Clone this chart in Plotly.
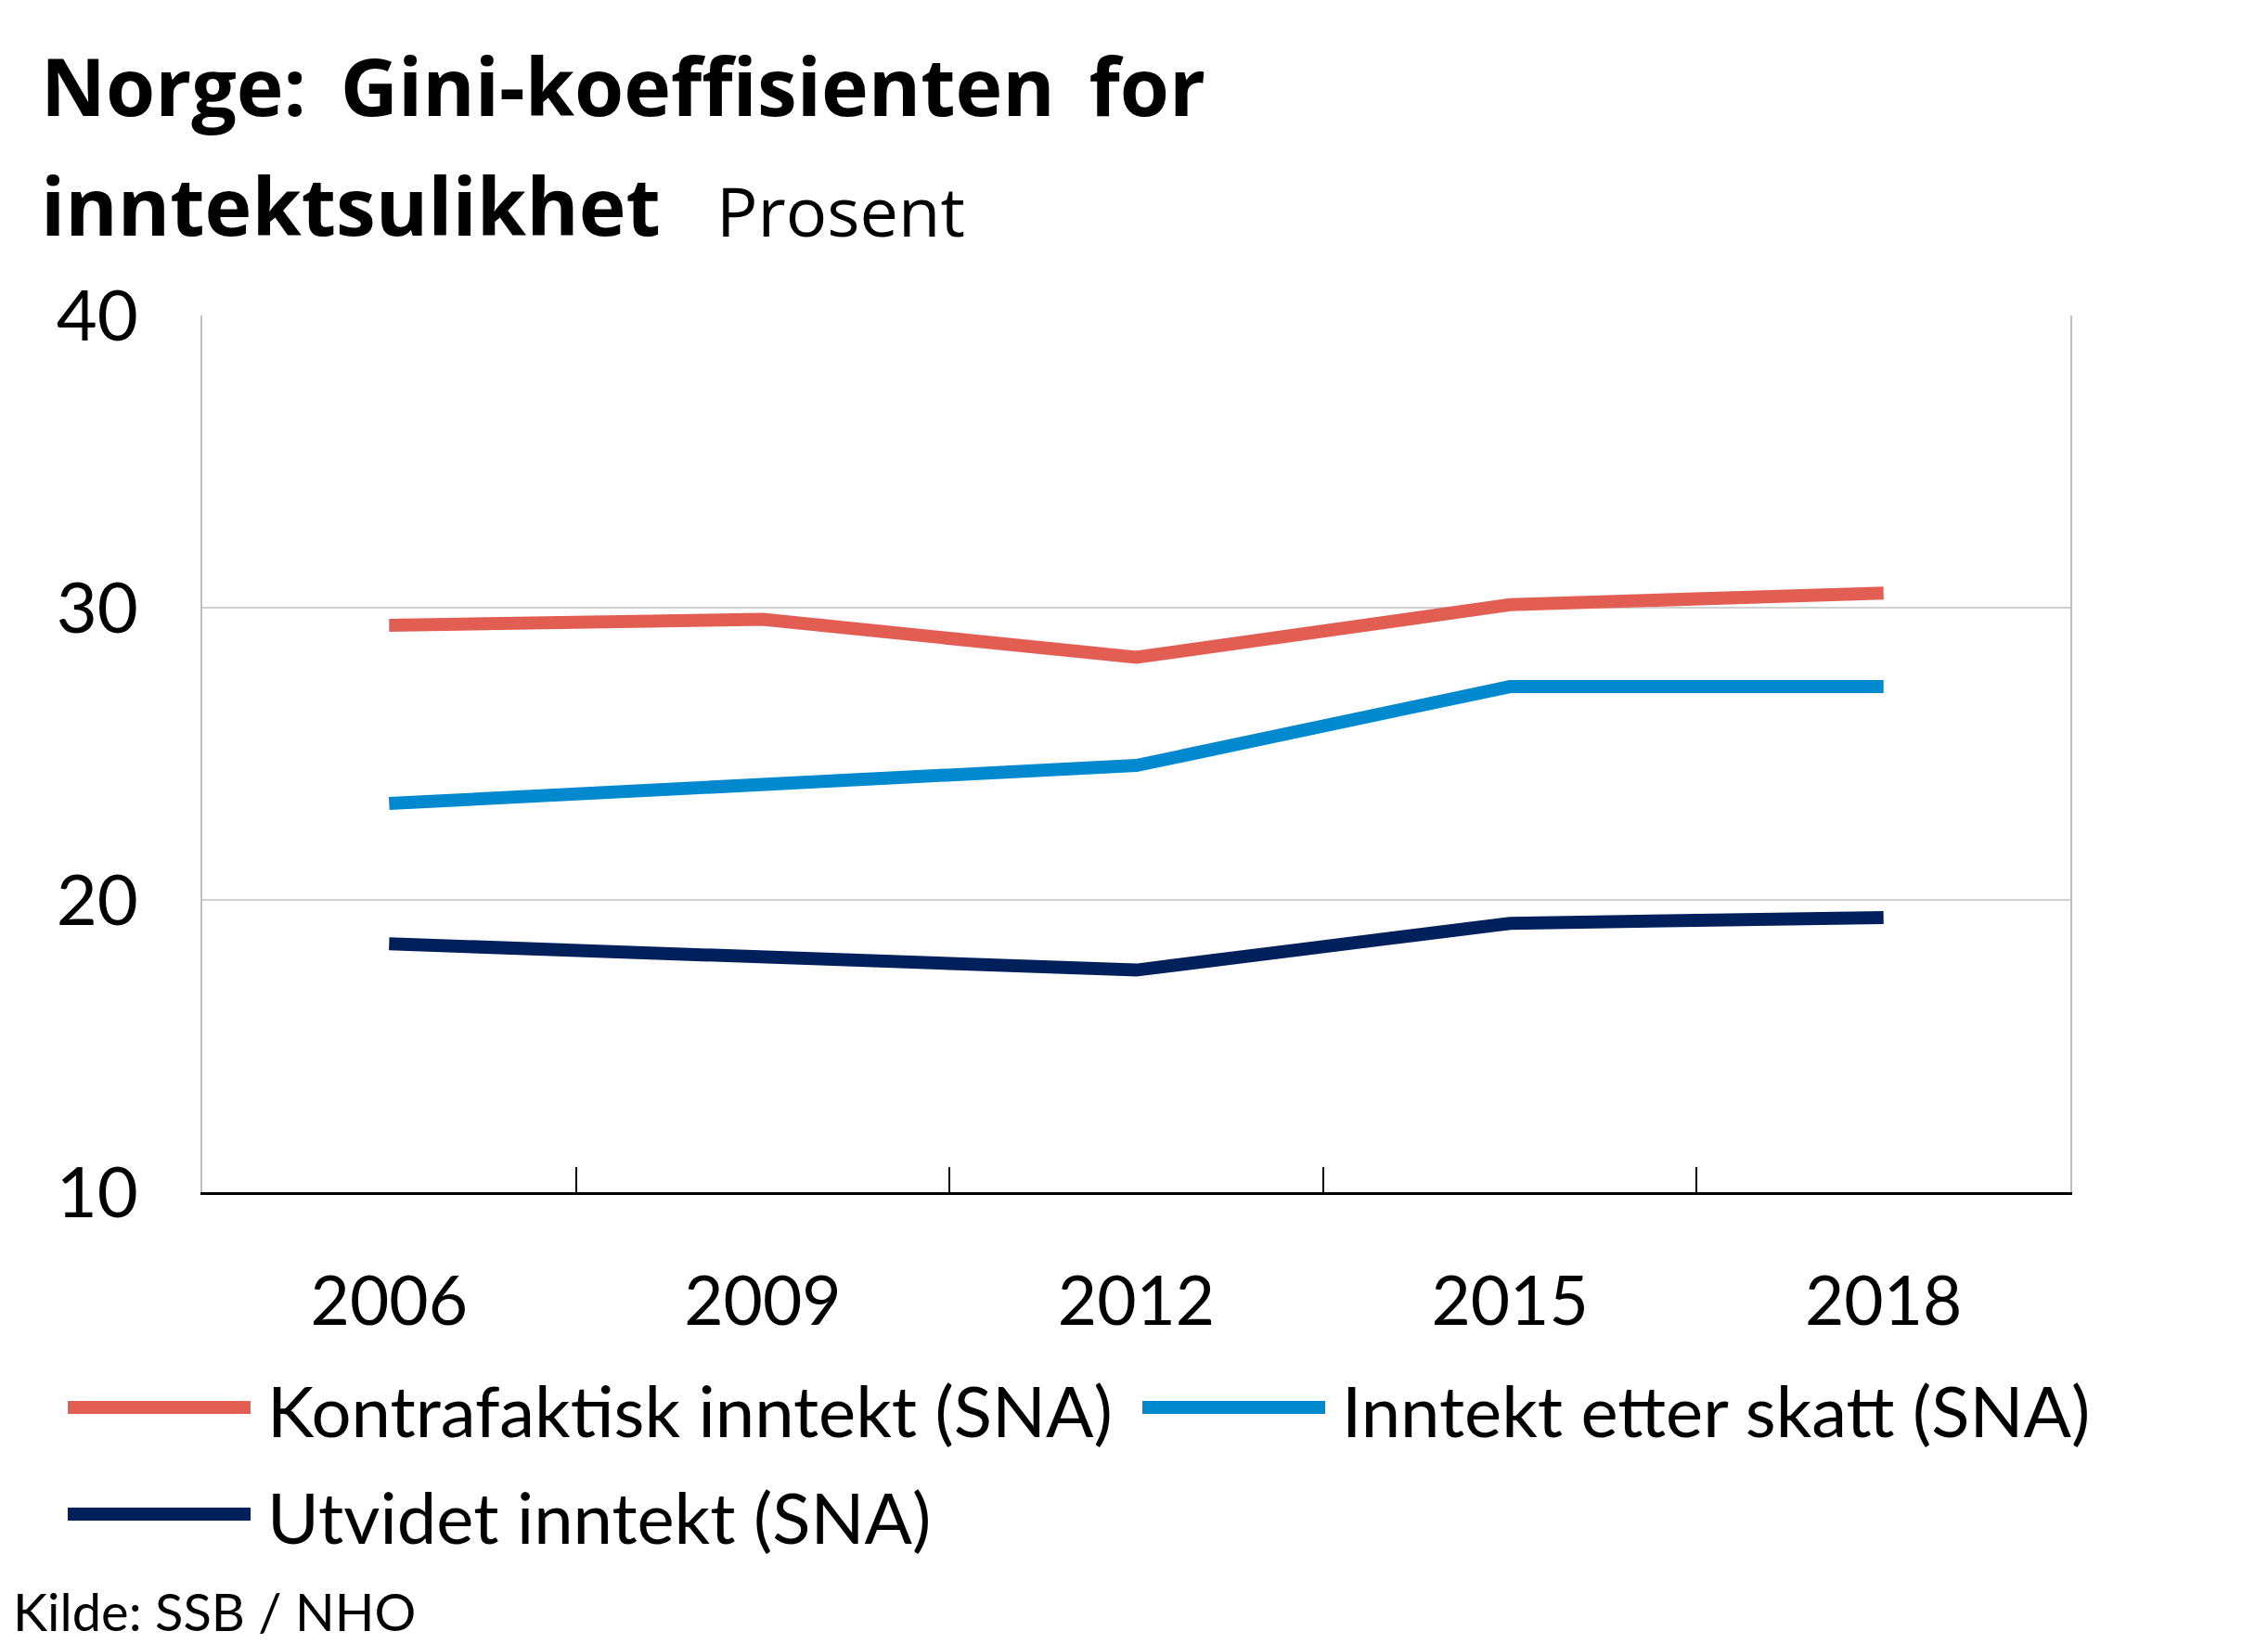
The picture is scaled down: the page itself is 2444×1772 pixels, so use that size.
import plotly.graph_objects as go

# ---- data ----
years = ["2006", "2009", "2012", "2015", "2018"]
kontrafaktisk = [29.4, 29.6, 28.3, 30.1, 30.5]
etter_skatt = [23.3, 24.0, 24.6, 27.3, 27.3]
utvidet = [18.5, 18.0, 17.6, 19.2, 19.4]
series_names = ["Kontrafaktisk inntekt (SNA)", "Inntekt etter skatt (SNA)", "Utvidet inntekt (SNA)"]
series_colors = ["#e35e52", "#0089cf", "#00205b"]
y_ticks = [10, 20, 30, 40]

title_line1 = "Norge:\u2009 Gini-koeffisienten\u2009 for"
title_line2 = "inntektsulikhet"
unit_text = "Prosent"
source_text = "Kilde: SSB / NHO"

OFF = 8  # browser body margin
W, H = 2444 - OFF, 1772 - OFF
L, R, T, B = 218, 2231, 340, 1285  # target plot-area edges in page pixels
FONT = "Lato"
TFONT = "Open Sans"


def px(x):
    return (x - L) / (R - L)


def py(y):
    return (B - y) / (B - T)


fig = go.Figure()
for name, vals, col in zip(series_names, [kontrafaktisk, etter_skatt, utvidet], series_colors):
    fig.add_trace(go.Scatter(x=years, y=vals, mode="lines", name=name,
                             line=dict(color=col, width=14), showlegend=False))

fig.update_layout(
    width=W, height=H,
    margin=dict(l=L - OFF, r=W - (R - OFF), t=T - OFF, b=H - (B - OFF), pad=0),
    paper_bgcolor="white", plot_bgcolor="white",
    font=dict(family=FONT, color="black", size=76),
)
fig.update_xaxes(
    type="category", range=[-0.5, len(years) - 0.5], tickson="boundaries", ticks="inside", ticklen=27,
    tickwidth=2, tickcolor="black", showline=True, linecolor="black", linewidth=3,
    showgrid=False, tickfont=dict(size=73, family=FONT), ticklabelstandoff=52,
)
fig.update_yaxes(
    range=[10, 40], tickvals=y_ticks, showgrid=True, gridcolor="#d0d0d0", gridwidth=2,
    showline=True, linecolor="#bfbfbf", linewidth=2, mirror=True, zeroline=False,
    ticks="", tickfont=dict(size=76, family=FONT), ticklabelstandoff=52,
)

ann = []
ann.append(dict(text="<b>" + title_line1 + "</b>", x=px(42), y=py(92), xanchor="left", yanchor="middle",
                font=dict(size=86, family=TFONT)))
ann.append(dict(text="<b>" + title_line2 + "</b>", x=px(42), y=py(221), xanchor="left", yanchor="middle",
                font=dict(size=86, family=TFONT)))
ann.append(dict(text=unit_text, x=px(770), y=py(227), xanchor="left", yanchor="middle",
                font=dict(size=74, family=TFONT)))
ann.append(dict(text=source_text, x=px(12), y=py(1736), xanchor="left", yanchor="middle",
                font=dict(size=56, family=FONT)))

# manual legend
legend_pos = [(73, 1517), (1231, 1517), (73, 1632)]
shapes = []
for (lx, ly), name, col in zip(legend_pos, series_names, series_colors):
    shapes.append(dict(type="line", xref="paper", yref="paper", x0=px(lx), x1=px(lx + 197),
                       y0=py(ly), y1=py(ly), line=dict(color=col, width=14)))
    ann.append(dict(text=name, x=px(lx + 213), y=py(ly + 2), xanchor="left", yanchor="middle",
                    font=dict(size=76, family=FONT)))

for a in ann:
    a.update(xref="paper", yref="paper", showarrow=False)
fig.update_layout(annotations=ann, shapes=shapes)

fig.write_html("out.html")
